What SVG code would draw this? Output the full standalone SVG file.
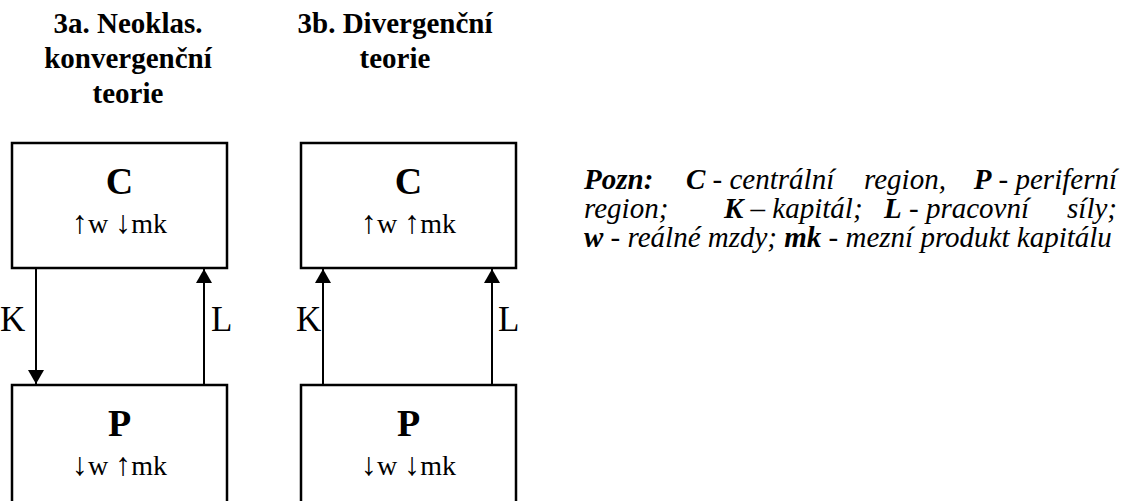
<svg xmlns="http://www.w3.org/2000/svg" width="1124" height="501" viewBox="0 0 1124 501">
<style>
.box{fill:#fff;stroke:#000;stroke-width:2.5}
.title{font-family:"Liberation Serif",serif;font-weight:bold;font-size:29px;text-anchor:middle;fill:#000}
.big{font-family:"Liberation Serif",serif;font-weight:bold;font-size:38px;text-anchor:middle;fill:#000}
.sub{font-family:"Liberation Serif",serif;font-size:28px;text-anchor:middle;fill:#000}
.ar{font-size:32px}
.lab{font-family:"Liberation Serif",serif;font-size:35px;fill:#000}
.note{font-family:"Liberation Serif",serif;font-style:italic;font-size:29px;fill:#000}
.b{font-weight:bold}
.conn{stroke:#000;stroke-width:2;fill:none}
</style>
<defs>
<marker id="ah" viewBox="0 0 14 16" refX="14" refY="8" markerWidth="14" markerHeight="16" markerUnits="userSpaceOnUse" orient="auto">
<path d="M0,0 L14,8 L0,16 Z" fill="#000"/>
</marker>
</defs>
<g id="titles">
<text class="title" x="128" y="33">3a. Neoklas.</text>
<text class="title" x="128" y="68">konvergenční</text>
<text class="title" x="128" y="103">teorie</text>
<text class="title" x="395" y="33">3b. Divergenční</text>
<text class="title" x="395" y="68">teorie</text>
</g>
<g id="connectors">
<line class="conn" x1="36" y1="268" x2="36" y2="384" marker-end="url(#ah)"/>
<line class="conn" x1="204" y1="385" x2="204" y2="269" marker-end="url(#ah)"/>
<line class="conn" x1="323" y1="385" x2="323" y2="269" marker-end="url(#ah)"/>
<line class="conn" x1="492" y1="385" x2="492" y2="269" marker-end="url(#ah)"/>
<text class="lab" x="0" y="331">K</text>
<text class="lab" x="211" y="331">L</text>
<text class="lab" x="296" y="331">K</text>
<text class="lab" x="498" y="331">L</text>
</g>
<g id="nodeC1">
<rect class="box" x="12" y="143" width="215" height="125"/>
<text class="big" x="119.5" y="194">C</text>
<text class="sub" x="119.5" y="233"><tspan class="ar">↑</tspan>w <tspan class="ar">↓</tspan>mk</text>
</g>
<g id="nodeC2">
<rect class="box" x="301" y="143" width="215" height="125"/>
<text class="big" x="408.5" y="194">C</text>
<text class="sub" x="408.5" y="233"><tspan class="ar">↑</tspan>w <tspan class="ar">↑</tspan>mk</text>
</g>
<g id="nodeP1">
<rect class="box" x="12" y="385" width="215" height="140"/>
<text class="big" x="119.5" y="436">P</text>
<text class="sub" x="119.5" y="475"><tspan class="ar">↓</tspan>w <tspan class="ar">↑</tspan>mk</text>
</g>
<g id="nodeP2">
<rect class="box" x="301" y="385" width="215" height="140"/>
<text class="big" x="408.5" y="436">P</text>
<text class="sub" x="408.5" y="475"><tspan class="ar">↓</tspan>w <tspan class="ar">↓</tspan>mk</text>
</g>
<g id="note">
<text class="note" x="584" y="189"><tspan class="b">Pozn:</tspan></text>
<text class="note" x="686" y="189"><tspan class="b">C</tspan> - centrální</text>
<text class="note" x="864" y="189">region,</text>
<text class="note" x="1117" y="189" text-anchor="end"><tspan class="b">P</tspan> - periferní</text>
<text class="note" x="584" y="218">region;</text>
<text class="note" x="724" y="218"><tspan class="b">K</tspan> – kapitál;</text>
<text class="note" x="884" y="218"><tspan class="b">L</tspan> - pracovní</text>
<text class="note" x="1117" y="218" text-anchor="end">síly;</text>
<text class="note" x="584" y="247"><tspan class="b">w</tspan> - reálné mzdy; <tspan class="b">mk</tspan> - mezní produkt kapitálu</text>
</g>
</svg>
